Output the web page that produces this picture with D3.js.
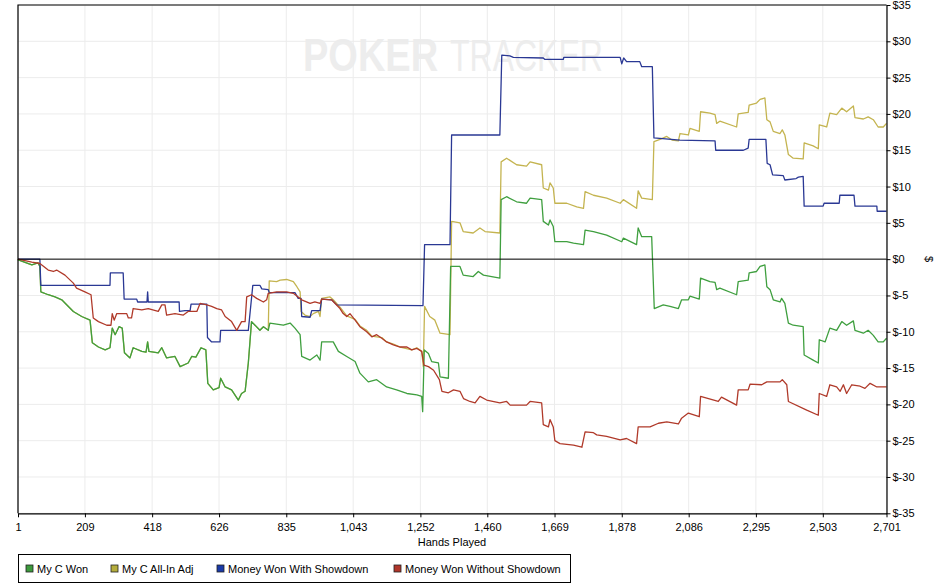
<!DOCTYPE html>
<html>
<head>
<meta charset="utf-8">
<script src="https://cdn.jsdelivr.net/npm/d3@7"></script>
<style>
	body { margin: 0; background: #fff; }
	text { font-family: 'Liberation Sans', Arial, sans-serif; }
</style>
</head>
<body>
<div id="chart"></div>
<script>
// hand number, cumulative $
const myCWon = [
	[1, 0], [2, -0.1], [44, -0.8], [63, -0.5], [69, -1.0], [72, -4.5], [95, -4.9], [116, -5.2],
	[137, -5.6], [173, -7.2], [199, -7.9], [225, -8.4], [232, -11.5], [251, -12.1], [272, -12.5],
	[287, -12.2], [294, -9.5], [303, -10.4], [315, -9.3], [325, -9.5], [332, -12.9], [349, -13.6],
	[359, -12.2], [386, -12.7], [399, -12.8], [404, -11.4], [408, -12.7], [437, -12.9], [448, -12.2],
	[463, -13.6], [489, -13.4], [505, -14.8], [530, -14.3], [541, -13.4], [554, -13.5], [570, -12.2],
	[585, -12.5], [591, -17.1], [608, -18.0], [626, -17.7], [631, -16.4], [645, -17.6], [665, -18.0],
	[686, -19.4], [696, -18.5], [707, -18.2], [717, -14.3], [727, -8.6], [753, -9.8], [764, -9.3],
	[779, -9.8], [784, -8.8], [826, -9.1], [847, -8.8], [862, -9.5], [878, -10.4], [883, -13.4],
	[909, -13.9], [930, -13.2], [940, -13.9], [945, -11.4], [981, -11.4], [997, -12.7], [1023, -13.4],
	[1049, -14.1], [1064, -15.7], [1090, -16.9], [1116, -16.6], [1147, -17.6], [1178, -18.0],
	[1210, -18.5], [1241, -18.7], [1256, -18.9], [1259, -21.0], [1264, -12.5], [1277, -13.0],
	[1287, -14.1], [1308, -14.3], [1313, -16.2], [1339, -16.4], [1346, -1.0], [1375, -1.0],
	[1385, -2.2], [1416, -2.4], [1432, -1.7], [1448, -2.2], [1499, -2.6], [1503, 8.2], [1520, 8.6],
	[1551, 7.9], [1582, 7.7], [1593, 8.4], [1629, 8.2], [1634, 5.2], [1650, 4.7], [1655, 5.4],
	[1665, 4.5], [1670, 2.4], [1707, 2.4], [1728, 2.2], [1759, 2.0], [1764, 4.0], [1790, 3.8],
	[1831, 3.3], [1878, 2.4], [1883, 2.9], [1924, 2.0], [1929, 4.3], [1940, 3.1], [1971, 3.1],
	[1979, -6.8], [2007, -6.3], [2028, -6.5], [2054, -6.8], [2064, -5.6], [2085, -5.6], [2090, -5.1],
	[2119, -5.5], [2123, -2.6], [2152, -3.1], [2168, -3.2], [2173, -4.2], [2183, -4.0], [2235, -4.9],
	[2240, -3.1], [2271, -2.9], [2274, -1.9], [2297, -1.7], [2308, -1.0], [2323, -0.8], [2329, -3.8],
	[2339, -4.2], [2349, -5.6], [2370, -5.9], [2375, -5.4], [2385, -6.1], [2396, -8.8], [2411, -9.1],
	[2442, -9.3], [2445, -13.2], [2473, -13.9], [2489, -14.3], [2492, -11.1], [2510, -11.4],
	[2525, -9.5], [2546, -9.8], [2562, -8.6], [2577, -9.1], [2598, -8.5], [2603, -9.8], [2629, -10.2],
	[2644, -9.8], [2660, -10.5], [2675, -11.4], [2691, -11.4], [2701, -10.9]
];

// same as My C Won until the first all-in at hand ~780
const allInAdjAfter = [
	[782, -3.0], [805, -3.1], [816, -2.9], [836, -2.8], [857, -3.1], [868, -3.8], [878, -4.5],
	[881, -7.2], [893, -7.7], [909, -7.9], [919, -7.5], [935, -7.2], [940, -7.9], [945, -5.4],
	[971, -5.2], [981, -5.6], [1002, -6.6], [1023, -7.8], [1049, -8.3], [1064, -9.2], [1085, -9.8],
	[1101, -10.6], [1132, -10.8], [1147, -11.4], [1168, -11.7], [1189, -12.1], [1225, -12.5],
	[1241, -12.2], [1256, -12.7], [1261, -14.8], [1265, -6.5], [1281, -7.9], [1297, -8.4],
	[1313, -10.2], [1344, -10.4], [1349, 5.2], [1375, 5.0], [1385, 3.8], [1416, 3.6], [1437, 4.3],
	[1453, 3.8], [1499, 3.6], [1503, 13.4], [1520, 13.9], [1551, 13.0], [1582, 12.8], [1593, 13.4],
	[1629, 13.0], [1634, 9.8], [1650, 9.5], [1655, 10.5], [1665, 9.8], [1670, 7.7], [1707, 7.7],
	[1738, 7.2], [1759, 7.0], [1764, 9.3], [1790, 8.8], [1831, 8.4], [1873, 7.7], [1883, 8.2],
	[1924, 7.0], [1929, 9.4], [1940, 8.4], [1973, 8.2], [1978, 16.2], [1997, 16.5], [2018, 16.9],
	[2034, 16.4], [2054, 16.3], [2059, 17.3], [2085, 17.1], [2090, 18.0], [2119, 17.6], [2123, 20.3],
	[2152, 20.1], [2168, 19.9], [2173, 18.7], [2183, 19.0], [2235, 18.2], [2240, 20.0], [2271, 20.2],
	[2274, 21.2], [2297, 21.5], [2308, 22.0], [2323, 22.2], [2329, 19.2], [2339, 18.9], [2349, 17.6],
	[2370, 17.3], [2377, 17.8], [2385, 17.1], [2396, 14.4], [2411, 13.9], [2442, 13.8], [2445, 16.0],
	[2473, 15.6], [2489, 15.2], [2492, 18.5], [2515, 18.2], [2525, 20.1], [2546, 19.9], [2562, 20.8],
	[2577, 20.3], [2598, 21.1], [2603, 19.5], [2629, 19.3], [2644, 19.6], [2660, 19.2], [2675, 18.2],
	[2691, 18.2], [2701, 18.7]
];
const myCAllInAdj = myCWon.filter((d) => d[0] <= 779).concat(allInAdjAfter);

const wonWithShowdown = [
	[1, 0], [69, 0], [72, -3.6], [287, -3.6], [288, -1.9], [328, -1.9], [331, -5.5], [370, -5.5],
	[373, -5.9], [402, -5.9], [404, -4.5], [406, -5.9], [502, -5.9], [503, -7.2], [520, -7.1],
	[536, -7.1], [539, -6.2], [588, -6.2], [590, -10.8], [603, -11.4], [629, -11.4], [631, -9.8],
	[717, -9.8], [731, -3.6], [753, -3.6], [759, -4.1], [779, -4.2], [782, -4.6], [862, -4.6],
	[872, -5.4], [881, -5.4], [883, -7.9], [909, -8.0], [914, -7.1], [940, -7.1], [945, -5.5],
	[976, -5.6], [992, -6.3], [1260, -6.4], [1265, 2.0], [1344, 2.0], [1349, 17.1], [1499, 17.1],
	[1505, 28.1], [1530, 28.0], [1541, 27.8], [1634, 27.7], [1639, 27.5], [1696, 27.5], [1698, 27.8],
	[1873, 27.8], [1878, 26.9], [1884, 27.7], [1893, 27.2], [1934, 27.2], [1940, 26.5], [1973, 26.5],
	[1978, 16.7], [2059, 16.4], [2168, 16.3], [2170, 15.0], [2256, 15.0], [2271, 15.3], [2274, 16.5],
	[2326, 16.5], [2330, 13.2], [2339, 13.0], [2347, 11.6], [2380, 11.5], [2385, 10.9], [2420, 11.1],
	[2427, 11.3], [2442, 11.4], [2445, 7.3], [2504, 7.3], [2507, 7.7], [2554, 7.7], [2556, 8.8],
	[2600, 8.8], [2603, 7.3], [2671, 7.3], [2672, 6.6], [2701, 6.6]
];

const wonWithoutShowdown = [
	[1, 0], [44, -0.4], [69, -0.6], [75, -0.8], [95, -1.5], [111, -1.7], [121, -1.5], [147, -2.2],
	[173, -3.3], [183, -4.0], [209, -4.5], [228, -4.9], [235, -8.1], [251, -8.6], [277, -9.1],
	[290, -9.1], [294, -7.5], [300, -8.4], [308, -7.5], [339, -7.5], [344, -8.1], [354, -8.1],
	[359, -6.8], [386, -7.0], [406, -6.8], [437, -7.2], [448, -6.3], [458, -6.3], [463, -7.7],
	[489, -7.5], [515, -7.7], [530, -7.2], [557, -7.2], [567, -6.1], [588, -6.3], [603, -6.5],
	[619, -6.8], [634, -7.0], [645, -7.9], [665, -8.6], [681, -9.8], [696, -8.6], [707, -8.6],
	[712, -5.2], [727, -4.9], [743, -5.4], [764, -5.9], [774, -5.6], [779, -4.7], [805, -4.5],
	[836, -4.5], [857, -4.7], [872, -5.2], [883, -5.6], [909, -6.1], [924, -5.9], [940, -6.1],
	[945, -5.5], [976, -5.6], [987, -6.1], [1002, -6.8], [1012, -7.5], [1023, -7.9], [1033, -7.5],
	[1049, -8.4], [1064, -9.3], [1085, -10.0], [1101, -10.7], [1116, -10.4], [1132, -10.9],
	[1147, -11.4], [1168, -11.8], [1189, -12.1], [1210, -12.1], [1225, -12.5], [1241, -12.3],
	[1256, -12.7], [1263, -14.6], [1277, -14.8], [1293, -15.3], [1311, -16.6], [1319, -18.2],
	[1339, -18.4], [1355, -18.0], [1375, -18.2], [1386, -19.2], [1406, -19.6], [1422, -19.8],
	[1437, -18.9], [1458, -19.4], [1499, -19.8], [1520, -19.6], [1531, -20.1], [1582, -20.1],
	[1593, -19.6], [1629, -19.8], [1634, -22.8], [1650, -23.1], [1655, -22.1], [1665, -23.1],
	[1670, -25.0], [1686, -25.4], [1728, -25.6], [1754, -25.9], [1764, -23.8], [1790, -23.9],
	[1800, -24.2], [1831, -24.4], [1873, -24.9], [1893, -24.7], [1924, -25.4], [1929, -23.1],
	[1966, -23.1], [1992, -22.6], [2018, -22.4], [2054, -22.7], [2064, -21.9], [2085, -21.2],
	[2119, -21.7], [2123, -18.9], [2178, -19.6], [2188, -19.0], [2235, -20.1], [2240, -18.0],
	[2271, -18.0], [2277, -17.2], [2313, -17.3], [2329, -16.9], [2370, -16.9], [2377, -16.6],
	[2391, -17.3], [2396, -19.6], [2453, -20.8], [2489, -21.5], [2492, -18.5], [2515, -18.9],
	[2525, -17.3], [2546, -17.6], [2557, -18.2], [2567, -17.3], [2577, -18.5], [2593, -17.3],
	[2619, -17.5], [2634, -17.8], [2650, -17.1], [2671, -17.6], [2701, -17.6]
];

const handTicks = [1, 209, 418, 626, 835, 1043, 1252, 1460, 1669, 1878, 2086, 2295, 2503, 2701];
const dollarTicks = [-35, -30, -25, -20, -15, -10, -5, 0, 5, 10, 15, 20, 25, 30, 35];

const series = [
	{ name: 'My C All-In Adj', data: myCAllInAdj, color: '#c4b450', legend: '#b5ad3c' },
	{ name: 'My C Won', data: myCWon, color: '#3f9f3f', legend: '#3c9a3c' },
	{ name: 'Money Won With Showdown', data: wonWithShowdown, color: '#2a3894', legend: '#1a3aa8' },
	{ name: 'Money Won Without Showdown', data: wonWithoutShowdown, color: '#b03a2a', legend: '#b0362a' },
];
const legendOrder = ['My C Won', 'My C All-In Adj', 'Money Won With Showdown', 'Money Won Without Showdown'];
const legendX = [26, 111, 217, 394];

const width = 948;
const height = 587;
const plot = { left: 18, right: 886.5, top: 5, bottom: 513.3 };

const svg = d3
	.select('#chart')
	.append('svg')
	.attr('width', width)
	.attr('height', height)
	.style('background', 'white');

const x = d3.scaleLinear().domain([1, 2701]).range([plot.left, plot.right]);
const y = d3.scaleLinear().domain([-35, 35]).range([plot.bottom, plot.top]);

// watermark: sized to fit naturally, stretched upward
svg.append('text')
	.attr('transform', 'translate(303,71) scale(1,1.2)')
	.attr('fill', '#ededed')
	.style('font-size', '38px')
	.style('font-weight', 'bold')
	.text('POKER');
svg.append('text')
	.attr('transform', 'translate(450,71) scale(1,1.4)')
	.attr('fill', '#ededed')
	.style('font-size', '32px')
	.text('TRACKER');

// grid
svg.append('g')
	.selectAll('line')
	.data(handTicks)
	.enter()
	.append('line')
	.attr('x1', (d) => x(d))
	.attr('x2', (d) => x(d))
	.attr('y1', plot.top)
	.attr('y2', plot.bottom)
	.attr('stroke', '#ececec');
svg.append('g')
	.selectAll('line')
	.data(dollarTicks)
	.enter()
	.append('line')
	.attr('x1', plot.left)
	.attr('x2', plot.right)
	.attr('y1', (d) => y(d))
	.attr('y2', (d) => y(d))
	.attr('stroke', '#ececec');

// lines
const line = d3
	.line()
	.x((d) => x(d[0]))
	.y((d) => y(d[1]));
svg.append('g')
	.selectAll('path')
	.data(series)
	.enter()
	.append('path')
	.attr('d', (d) => line(d.data))
	.attr('fill', 'none')
	.attr('stroke', (d) => d.color)
	.attr('stroke-width', 1.3)
	.attr('stroke-linejoin', 'round');

// zero line and frame
svg.append('line')
	.attr('x1', plot.left)
	.attr('x2', plot.right)
	.attr('y1', y(0))
	.attr('y2', y(0))
	.attr('stroke', '#000');
svg.append('path')
	.attr('d', `M${plot.right},${plot.top}H${plot.left}V${plot.bottom}`)
	.attr('fill', 'none')
	.attr('stroke', '#000')
	.attr('stroke-width', 1.2);

// axes
const xAxis = svg
	.append('g')
	.attr('transform', `translate(0,${plot.bottom})`)
	.call(
		d3.axisBottom(x).tickValues(handTicks).tickFormat(d3.format(',')).tickSize(4).tickSizeOuter(0)
	);
const yAxis = svg
	.append('g')
	.attr('transform', `translate(${plot.right},0)`)
	.call(
		d3.axisRight(y).tickValues(dollarTicks).tickFormat((d) => '$' + d).tickSize(4).tickSizeOuter(0)
	);
[xAxis, yAxis].forEach((a) => {
	a.select('.domain').attr('stroke', '#000').attr('stroke-width', 1.2);
	a.selectAll('.tick line').attr('stroke', '#000');
	a.selectAll('text')
		.attr('fill', '#000')
		.style('font-family', "'Liberation Sans', Arial, sans-serif")
		.style('font-size', '11px');
});
xAxis.selectAll('text').attr('dy', '0.95em');
yAxis.selectAll('text').attr('x', 6);

svg.append('text')
	.attr('x', 452)
	.attr('y', 546)
	.attr('text-anchor', 'middle')
	.style('font-size', '11px')
	.text('Hands Played');
svg.append('text')
	.attr('transform', `translate(925,${y(0)}) rotate(90)`)
	.attr('text-anchor', 'middle')
	.style('font-size', '11px')
	.text('$');

// legend
svg.append('rect')
	.attr('x', 18.5)
	.attr('y', 554.5)
	.attr('width', 552)
	.attr('height', 28)
	.attr('fill', '#fff')
	.attr('stroke', '#000');
const leg = svg
	.append('g')
	.selectAll('g')
	.data(legendOrder.map((n) => series.find((s) => s.name === n)))
	.enter()
	.append('g')
	.attr('transform', (d, i) => `translate(${legendX[i]},565)`);
leg.append('rect')
	.attr('width', 7)
	.attr('height', 7)
	.attr('fill', (d) => d.legend)
	.attr('stroke', '#222')
	.attr('stroke-width', 0.8);
leg.append('text')
	.attr('x', 11)
	.attr('y', 7.5)
	.style('font-size', '11px')
	.text((d) => d.name);
</script>
</body>
</html>
